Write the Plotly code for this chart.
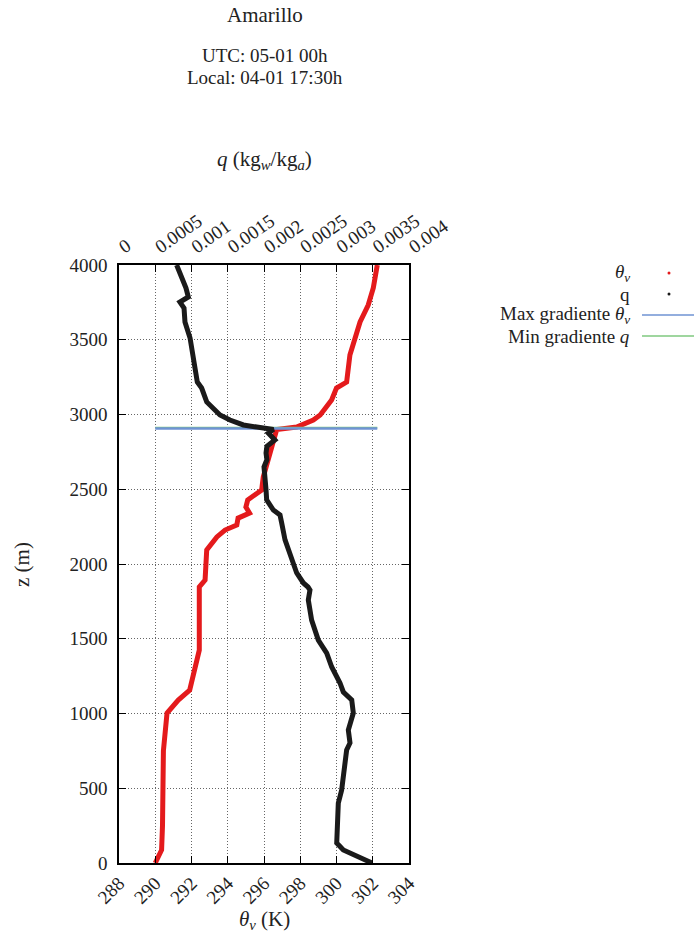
import plotly.graph_objects as go

# ---------------- data ----------------
z_theta = [0, 87, 250, 490, 750, 1003, 1025, 1090, 1156, 1204, 1244, 1311, 1424, 1491, 1700, 1846,
           1893, 2094, 2181, 2227, 2261, 2307, 2341, 2381, 2428, 2475, 2495, 2582, 2715, 2829,
           2863, 2900, 2916, 2963, 2997, 3097, 3177, 3217, 3398, 3512, 3619, 3732, 3846, 4000]
theta_v = [290.0, 290.35, 290.4, 290.4, 290.45, 290.65, 290.8, 291.27, 291.9, 292.0, 292.1, 292.2,
           292.43, 292.43, 292.45, 292.43, 292.75, 292.84, 293.4, 293.85, 294.5, 294.57, 295.2,
           295.0, 295.1, 295.6, 295.87, 295.96, 296.24, 296.5, 296.6, 296.7, 297.8, 298.72,
           299.1, 299.73, 300.0, 300.56, 300.74, 301.0, 301.3, 301.75, 302.03, 302.25]

z_q = [0, 87, 134, 268, 401, 488, 756, 803, 890, 1003, 1090, 1144, 1204, 1311, 1404, 1491, 1625,
       1759, 1826, 1846, 1873, 1940, 2074, 2161, 2274, 2328, 2361, 2428, 2495, 2609, 2649, 2697,
       2742, 2787, 2830, 2876, 2900, 2916, 2930, 2963, 2997, 3084, 3177, 3217, 3398, 3512, 3619,
       3712, 3752, 3786, 3846, 3913, 4000]
q = [0.00349, 0.003094, 0.003003, 0.003011, 0.003025, 0.003071, 0.00314, 0.003186, 0.003163,
     0.003232, 0.00321, 0.003094, 0.003048, 0.002934, 0.002865, 0.002749, 0.002657, 0.002611,
     0.002634, 0.002607, 0.002543, 0.002451, 0.002359, 0.00229, 0.002244, 0.002221, 0.002129,
     0.002037, 0.002028, 0.002014, 0.002, 0.00204, 0.002028, 0.00204, 0.00215, 0.00206, 0.00213,
     0.0019, 0.001715, 0.00153, 0.001393, 0.00121, 0.00114, 0.00108, 0.001025, 0.00098, 0.00091,
     0.000897, 0.00084, 0.000956, 0.000924, 0.000864, 0.000795]

z_max_grad_theta = 2907
z_min_grad_q = 2911

x_ticks = [288, 290, 292, 294, 296, 298, 300, 302, 304]
x2_ticks = [0, 0.0005, 0.001, 0.0015, 0.002, 0.0025, 0.003, 0.0035, 0.004]
x2_ticktext = ["0", "0.0005", "0.001", "0.0015", "0.002", "0.0025", "0.003", "0.0035", "0.004"]
y_ticks = [0, 500, 1000, 1500, 2000, 2500, 3000, 3500, 4000]

legend_labels = ["<i>θ</i><sub><i>v</i></sub>", "q",
                 "Max gradiente <i>θ</i><sub><i>v</i></sub>", "Min gradiente <i>q</i>"]

RED = "#e41a1c"
BLACK = "#1a1a1a"
BLUE = "#6f93d3"
GREEN = "#7fc97f"
FONT = "Liberation Serif"
TXT = 21
SMALL = 19
TICK = 19

fig = go.Figure()
fig.add_trace(go.Scatter(x=theta_v, y=z_theta, mode="lines", xaxis="x", yaxis="y",
                         line=dict(color=RED, width=5), showlegend=False))
fig.add_trace(go.Scatter(x=q, y=z_q, mode="lines", xaxis="x2", yaxis="y",
                         line=dict(color=BLACK, width=5), showlegend=False))
tmin, tmax = min(theta_v), max(theta_v)
fig.add_trace(go.Scatter(x=[tmin, tmax], y=[z_min_grad_q, z_min_grad_q], mode="lines",
                         line=dict(color=GREEN, width=2), showlegend=False))
fig.add_trace(go.Scatter(x=[tmin, tmax], y=[z_max_grad_theta, z_max_grad_theta], mode="lines",
                         line=dict(color=BLUE, width=2.5), showlegend=False))

axis_common = dict(showline=True, linecolor="black", linewidth=1.5, ticks="inside",
                   ticklen=7, tickcolor="black", tickfont=dict(family=FONT, size=TICK, color="#222"))

fig.update_layout(
    width=694, height=938,
    margin=dict(l=119, r=285, t=265, b=75),
    paper_bgcolor="white", plot_bgcolor="white",
    font=dict(family=FONT, size=TICK, color="#222"),
    xaxis=dict(range=[288, 304], tickvals=x_ticks, tickangle=-45, mirror=True,
               showgrid=True, gridcolor="#666", griddash="1px,2px", gridwidth=1, zeroline=False,
               **axis_common),
    xaxis2=dict(range=[0, 0.004], overlaying="x", side="top", tickvals=x2_ticks,
                ticktext=x2_ticktext, tickangle=-35, showgrid=False, zeroline=False,
                **axis_common),
    yaxis=dict(range=[0, 4000], tickvals=y_ticks, mirror="ticks", showgrid=True,
               gridcolor="#666", griddash="1px,2px", gridwidth=1, zeroline=False,
               ticklabelstandoff=6, **axis_common),
)

def py2paper(py):
    return (863 - py) / 598

def px2paper(px):
    return (px - 119) / 290

ann = []
ann.append(dict(text="Amarillo", x=px2paper(265), y=py2paper(15), size=TXT))
ann.append(dict(text="UTC: 05-01 00h", x=px2paper(265), y=py2paper(56), size=SMALL))
ann.append(dict(text="Local: 04-01 17:30h", x=px2paper(265), y=py2paper(77), size=SMALL))
ann.append(dict(text="<i>q</i> (kg<sub><i>w</i></sub>/kg<sub><i>a</i></sub>)",
                x=px2paper(264), y=py2paper(160), size=TXT))
ann.append(dict(text="<i>θ</i><sub><i>v</i></sub> (K)", x=px2paper(264), y=py2paper(920), size=TXT))
ann.append(dict(text="z (m)", x=px2paper(22), y=py2paper(565), textangle=-90, size=TXT))
for a in ann:
    sz = a.pop("size")
    a.update(xref="paper", yref="paper", showarrow=False, xanchor="center", yanchor="middle",
             font=dict(family=FONT, size=sz, color="#222"))

rows = [273, 294, 315, 336]
shapes = []
for lbl, ry in zip(legend_labels, rows):
    ann.append(dict(text=lbl, xref="paper", yref="paper", x=px2paper(632), y=py2paper(ry),
                    xanchor="right", yanchor="middle", showarrow=False,
                    font=dict(family=FONT, size=SMALL, color="#222")))
# legend samples
for color, ry in [(RED, rows[0]), (BLACK, rows[1])]:
    shapes.append(dict(type="circle", xref="paper", yref="paper",
                       x0=px2paper(667.5), x1=px2paper(670.5),
                       y0=py2paper(ry + 1.5), y1=py2paper(ry - 1.5),
                       fillcolor=color, line=dict(color=color, width=0)))
for color, ry in [(BLUE, rows[2]), (GREEN, rows[3])]:
    shapes.append(dict(type="line", xref="paper", yref="paper",
                       x0=px2paper(642), x1=px2paper(694), y0=py2paper(ry), y1=py2paper(ry),
                       line=dict(color=color, width=1.5)))

fig.update_layout(annotations=ann, shapes=shapes)
fig.write_html("out.html")
